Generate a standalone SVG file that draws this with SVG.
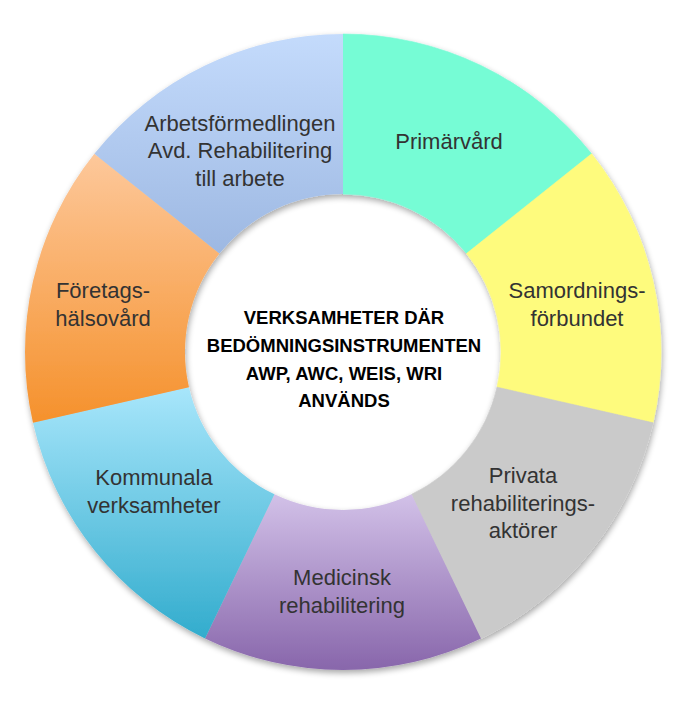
<svg xmlns="http://www.w3.org/2000/svg" width="682" height="727" viewBox="0 0 682 727">
  <style>
    .lbl { font-family: "Liberation Sans", Arial, sans-serif; font-size: 22px; fill: #333333; text-anchor: middle; }
    .ttl { font-family: "Liberation Sans", Arial, sans-serif; font-size: 18.5px; font-weight: bold; fill: #000000; text-anchor: middle; }
  </style>
  <defs>
    <linearGradient id="gBlue" x1="0" y1="0" x2="0" y2="1">
      <stop offset="0" stop-color="#C4DBFC"/>
      <stop offset="1" stop-color="#9DB8E2"/>
    </linearGradient>
    <linearGradient id="gOrange" x1="0" y1="0" x2="0" y2="1">
      <stop offset="0" stop-color="#FDC89B"/>
      <stop offset="1" stop-color="#F5912C"/>
    </linearGradient>
    <linearGradient id="gCyan" x1="0" y1="0" x2="0" y2="1">
      <stop offset="0" stop-color="#A8E6FB"/>
      <stop offset="1" stop-color="#32ACCD"/>
    </linearGradient>
    <linearGradient id="gPurple" x1="0" y1="0" x2="0" y2="1">
      <stop offset="0" stop-color="#D2C1E8"/>
      <stop offset="1" stop-color="#8866AB"/>
    </linearGradient>
    <filter id="shadow" x="-10%" y="-10%" width="120%" height="120%">
      <feGaussianBlur in="SourceAlpha" stdDeviation="3"/>
      <feOffset dx="1" dy="3" result="b"/>
      <feComponentTransfer><feFuncA type="linear" slope="0.35"/></feComponentTransfer>
      <feMerge><feMergeNode/><feMergeNode in="SourceGraphic"/></feMerge>
    </filter>
  </defs>
  <rect width="682" height="727" fill="#FFFFFF"/>
  <g id="ring" filter="url(#shadow)">
    <g id="seg-primarvard">
      <path d="M343 34 A318 318 0 0 1 591.62 153.73 L466.53 253.49 A158 158 0 0 0 343 194 Z" fill="#76FCD5" stroke="#76FCD5" stroke-width="0.6"/>
    </g>
    <g id="seg-samordning">
      <path d="M591.62 153.73 A318 318 0 0 1 653.03 422.76 L497.04 387.16 A158 158 0 0 0 466.53 253.49 Z" fill="#FEFB7D" stroke="#FEFB7D" stroke-width="0.6"/>
    </g>
    <g id="seg-privata">
      <path d="M653.03 422.76 A318 318 0 0 1 480.98 638.51 L411.55 494.35 A158 158 0 0 0 497.04 387.16 Z" fill="#CACACA" stroke="#CACACA" stroke-width="0.6"/>
    </g>
    <g id="seg-medicinsk">
      <path d="M480.98 638.51 A318 318 0 0 1 205.02 638.51 L274.45 494.35 A158 158 0 0 0 411.55 494.35 Z" fill="url(#gPurple)"/>
    </g>
    <g id="seg-kommunala">
      <path d="M205.02 638.51 A318 318 0 0 1 32.97 422.76 L188.96 387.16 A158 158 0 0 0 274.45 494.35 Z" fill="url(#gCyan)"/>
    </g>
    <g id="seg-foretag">
      <path d="M32.97 422.76 A318 318 0 0 1 94.38 153.73 L219.47 253.49 A158 158 0 0 0 188.96 387.16 Z" fill="url(#gOrange)"/>
    </g>
    <g id="seg-arbetsformedlingen">
      <path d="M94.38 153.73 A318 318 0 0 1 343 34 L343 194 A158 158 0 0 0 219.47 253.49 Z" fill="url(#gBlue)"/>
    </g>
  </g>
  <g id="labels">
    <g id="lbl-primarvard"><text class="lbl" x="449" y="149">Primärvård</text></g>
    <g id="lbl-samordning">
      <text class="lbl" x="577" y="298">Samordnings-</text>
      <text class="lbl" x="577" y="326">förbundet</text>
    </g>
    <g id="lbl-privata">
      <text class="lbl" x="523" y="483">Privata</text>
      <text class="lbl" x="523" y="511">rehabiliterings-</text>
      <text class="lbl" x="523" y="538">aktörer</text>
    </g>
    <g id="lbl-medicinsk">
      <text class="lbl" x="342" y="585">Medicinsk</text>
      <text class="lbl" x="342" y="613">rehabilitering</text>
    </g>
    <g id="lbl-kommunala">
      <text class="lbl" x="154" y="485">Kommunala</text>
      <text class="lbl" x="154" y="513">verksamheter</text>
    </g>
    <g id="lbl-foretag">
      <text class="lbl" x="103" y="298">Företags-</text>
      <text class="lbl" x="103" y="326">hälsovård</text>
    </g>
    <g id="lbl-arbetsformedlingen">
      <text class="lbl" x="240" y="131">Arbetsförmedlingen</text>
      <text class="lbl" x="240" y="158">Avd. Rehabilitering</text>
      <text class="lbl" x="240" y="186">till arbete</text>
    </g>
  </g>
  <g id="center">
    <text class="ttl" x="344" y="324">VERKSAMHETER DÄR</text>
    <text class="ttl" x="344" y="352">BEDÖMNINGSINSTRUMENTEN</text>
    <text class="ttl" x="344" y="380">AWP, AWC, WEIS, WRI</text>
    <text class="ttl" x="344" y="407">ANVÄNDS</text>
  </g>
</svg>
